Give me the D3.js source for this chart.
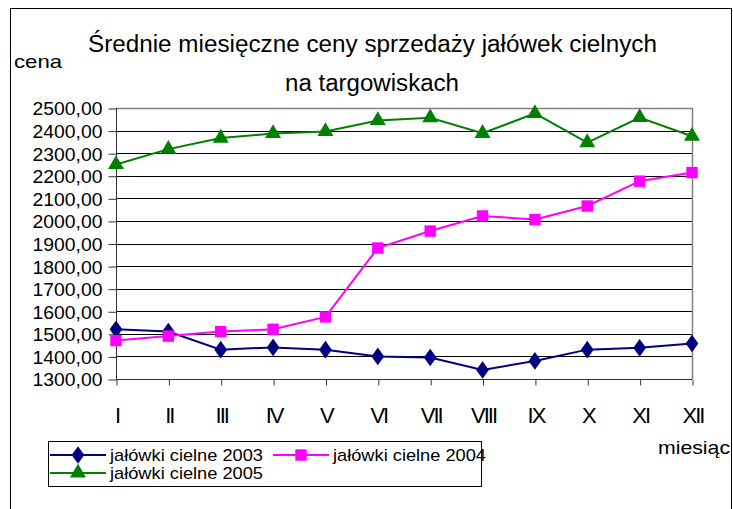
<!DOCTYPE html>
<html>
<head>
<meta charset="utf-8">
<script src="https://cdn.jsdelivr.net/npm/d3@7"></script>
<style>
body { margin: 0; background: #fff; }
text { font-family: "Liberation Sans", Arial, sans-serif; fill: #000; }
</style>
</head>
<body>
<script>
var months = ["I", "II", "III", "IV", "V", "VI", "VII", "VIII", "IX", "X", "XI", "XII"];
var yTicks = [1300, 1400, 1500, 1600, 1700, 1800, 1900, 2000, 2100, 2200, 2300, 2400, 2500];
var seriesNames = ["jałówki cielne 2003", "jałówki cielne 2004", "jałówki cielne 2005"];
var v2003 = [1520, 1510, 1430, 1440, 1430, 1400, 1395, 1340, 1380, 1430, 1438, 1457];
var v2004 = [1470, 1490, 1510, 1520, 1575, 1880, 1955, 2022, 2006, 2066, 2176, 2214];
var v2005 = [2250, 2318, 2367, 2387, 2396, 2445, 2457, 2388, 2476, 2347, 2458, 2375];

var W = 733, H = 509;
var svg = d3.select("body").append("svg")
	.attr("width", W)
	.attr("height", H);

// outer frame
svg.append("rect")
	.attr("x", 10.5).attr("y", 8.5)
	.attr("width", 721).attr("height", 520)
	.attr("fill", "none").attr("stroke", "#000");

var pLeft = 116, pRight = 692, pTop = 108, pBottom = 379;

var x = d3.scalePoint()
	.domain(months)
	.range([pLeft, pRight]);

var y = d3.scaleLinear()
	.domain([1300, 2500])
	.range([pBottom, pTop]);

// grid
svg.append("g").selectAll("line")
	.data(yTicks.slice(1, -1))
	.enter().append("line")
	.attr("x1", pLeft).attr("x2", pRight)
	.attr("y1", function(d) { return Math.round(y(d)) + 0.5; })
	.attr("y2", function(d) { return Math.round(y(d)) + 0.5; })
	.attr("stroke", "#000");

// plot border top/right (gray)
svg.append("path")
	.attr("d", "M" + pLeft + "," + (pTop + 0.5) + "H" + (pRight + 0.5) + "V" + pBottom)
	.attr("fill", "none").attr("stroke", "#808080").attr("stroke-width", 1.5);

// y axis
var yAxis = d3.axisLeft(y)
	.tickValues(yTicks)
	.tickSize(8)
	.tickPadding(6)
	.tickFormat(function(d) { return d3.format(".2f")(d).replace(".", ","); });
var gy = svg.append("g")
	.attr("transform", "translate(" + (pLeft + 0.5) + ",0.5)")
	.call(yAxis);
gy.selectAll("line, path").attr("stroke", "#333");
gy.select(".domain").attr("d", "M0," + (pTop - 0.5) + "V" + (pBottom - 0.5));
gy.selectAll("text")
	.style("font-family", "Liberation Sans, Arial, sans-serif")
	.style("font-size", "18px")
	.attr("fill", "#000")
	.attr("textLength", 70)
	.attr("lengthAdjust", "spacingAndGlyphs")
	.attr("dy", "0.36em");

// x axis
var xAxis = d3.axisBottom(x)
	.tickSize(6)
	.tickPadding(22);
var gx = svg.append("g")
	.attr("transform", "translate(0.5," + (pBottom + 0.5) + ")")
	.call(xAxis);
gx.selectAll("line, path").attr("stroke", "#333");
gx.select(".domain").attr("d", "M" + (pLeft - 0.5) + ",0H" + (pRight - 0.5));
gx.selectAll("text")
	.style("font-family", "Liberation Sans, Arial, sans-serif")
	.style("font-size", "22px")
	.style("letter-spacing", "-2px")
	.attr("fill", "#000");

// lines
var line = d3.line()
	.x(function(d, i) { return x(months[i]); })
	.y(function(d) { return y(d); });

var series = [
	{ name: seriesNames[0], values: v2003, color: "#000080", sym: d3.symbolDiamond, size: 90 },
	{ name: seriesNames[1], values: v2004, color: "#ff00ff", sym: d3.symbolSquare, size: 130 },
	{ name: seriesNames[2], values: v2005, color: "#008000", sym: d3.symbolTriangle, size: 110 }
];

series.forEach(function(s) {
	svg.append("path")
		.datum(s.values)
		.attr("d", line)
		.attr("fill", "none")
		.attr("stroke", s.color)
		.attr("stroke-width", 2);
	svg.append("g").selectAll("path")
		.data(s.values)
		.enter().append("path")
		.attr("d", d3.symbol().type(s.sym).size(s.size))
		.attr("transform", function(d, i) {
			var sy = s.sym === d3.symbolDiamond ? "scale(1.25,1)" : "";
			return "translate(" + x(months[i]) + "," + y(d) + ")" + sy;
		})
		.attr("fill", s.color);
});

// title
svg.append("text")
	.attr("x", 88).attr("y", 52)
	.style("font-size", "23px")
	.attr("textLength", 569)
	.attr("lengthAdjust", "spacingAndGlyphs")
	.text("Średnie miesięczne ceny sprzedaży jałówek cielnych");
svg.append("text")
	.attr("x", 285).attr("y", 91)
	.style("font-size", "23px")
	.attr("textLength", 174)
	.attr("lengthAdjust", "spacingAndGlyphs")
	.text("na targowiskach");

svg.append("text")
	.attr("x", 14).attr("y", 68)
	.style("font-size", "19px")
	.attr("textLength", 48)
	.attr("lengthAdjust", "spacingAndGlyphs")
	.text("cena");

svg.append("text")
	.attr("x", 658).attr("y", 454)
	.style("font-size", "19px")
	.attr("textLength", 72)
	.attr("lengthAdjust", "spacingAndGlyphs")
	.text("miesiąc");

// legend
var legend = svg.append("g");
legend.append("rect")
	.attr("x", 48.5).attr("y", 441.5)
	.attr("width", 433).attr("height", 45)
	.attr("fill", "#fff").attr("stroke", "#000");

var legPos = [[50, 461], [273, 461], [50, 479]];
series.forEach(function(s, i) {
	var p = legPos[i];
	var g = legend.append("g").attr("transform", "translate(" + p[0] + "," + p[1] + ")");
	g.append("line")
		.attr("x1", 0).attr("x2", 56)
		.attr("y1", -6).attr("y2", -6)
		.attr("stroke", s.color).attr("stroke-width", 2);
	g.append("path")
		.attr("d", d3.symbol().type(s.sym).size(s.size))
		.attr("transform", "translate(28,-6)" + (s.sym === d3.symbolDiamond ? "scale(1.25,1)" : ""))
		.attr("fill", s.color);
	g.append("text")
		.attr("x", 60).attr("y", 0)
		.style("font-size", "17px")
		.attr("textLength", 153)
		.attr("lengthAdjust", "spacingAndGlyphs")
		.text(s.name);
});
</script>
</body>
</html>
